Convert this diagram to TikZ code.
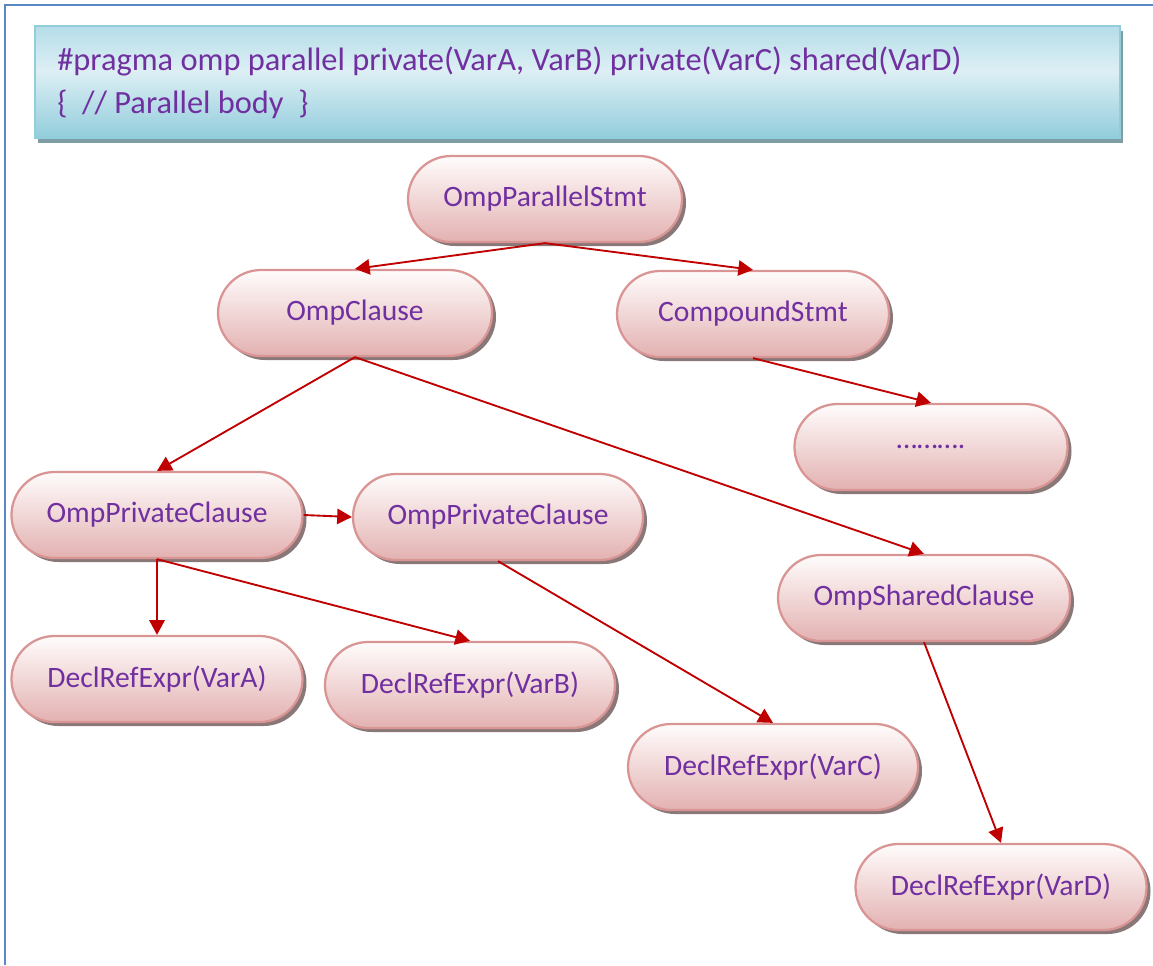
\documentclass[tikz,border=0pt]{standalone}
\usepackage{fontspec}
\setmainfont{Carlito}
\usetikzlibrary{arrows.meta,shapes.misc,shadows}
\definecolor{txt}{HTML}{7030A0}
\definecolor{edgec}{HTML}{C00000}
\definecolor{pillborder}{HTML}{D99594}
\definecolor{pilltop}{HTML}{FFFCFC}
\definecolor{pillbot}{HTML}{E3B1B1}
\definecolor{shad}{HTML}{8A7878}
\definecolor{framec}{HTML}{5B87C5}
\definecolor{hdrdark}{HTML}{92CDDC}
\definecolor{hdrmid}{HTML}{B5DDE8}
\definecolor{hdrlight}{HTML}{DDEFF4}
\definecolor{hdrshad}{HTML}{7E9DA5}
\pgfdeclareverticalshading{hdrshade}{100bp}{color(0bp)=(hdrdark); color(25bp)=(hdrdark); color(55bp)=(hdrlight); color(75bp)=(hdrmid); color(100bp)=(hdrmid)}
\tikzset{
  pill/.style={rounded rectangle, draw=pillborder, line width=1.7pt,
    top color=pilltop, bottom color=pillbot, text=txt,
    font=\fontsize{22.2}{26}\selectfont, minimum height=64.5pt, inner sep=0pt,
    general shadow={fill=shad, shadow xshift=3pt, shadow yshift=-3pt}},
  hdrbox/.style={rectangle, draw=hdrdark, line width=0.8pt, shading=hdrshade,
    minimum width=813.75pt, minimum height=84pt, inner sep=0pt,
    general shadow={fill=hdrshad, shadow xshift=2pt, shadow yshift=-4pt}},
  hdrtext/.style={anchor=west, text=txt, font=\fontsize{24.3}{28}\selectfont, inner sep=0pt},
  arr/.style={draw=edgec, line width=1.4pt, -{Triangle[length=11pt,width=11.5pt]}},
  framel/.style={draw=framec, line width=1.6pt}
}
\begin{document}
\begin{tikzpicture}[x=0.75pt,y=-0.75pt]
\useasboundingbox (0,0) rectangle (1153,965);
\draw[framel] (5,965) -- (5,5) -- (1153,5);
\node[hdrbox] (hdr) at (577.5,82) {};
\node[hdrtext] (h1) at (57,61) {\#pragma omp parallel private(VarA, VarB) private(VarC) shared(VarD)};
\node[hdrtext] (h2) at (57,104) {\{\ \ // Parallel body\ \ \}};

\node[pill, minimum width=205.5pt] (ps) at (545,199) {OmpParallelStmt};
\node[pill, minimum width=205.5pt] (oc) at (355,313) {OmpClause};
\node[pill, minimum width=204pt] (cs) at (753,314) {CompoundStmt};
\node[pill, minimum width=204.75pt] (dots) at (931,447) {……….};
\node[pill, minimum width=218.25pt] (pc1) at (157,515) {OmpPrivateClause};
\node[pill, minimum width=217.5pt] (pc2) at (498,517) {OmpPrivateClause};
\node[pill, minimum width=219pt] (sc) at (924,598) {OmpSharedClause};
\node[pill, minimum width=218.25pt] (da) at (157,679) {DeclRefExpr(VarA)};
\node[pill, minimum width=217.5pt] (db) at (470,685) {DeclRefExpr(VarB)};
\node[pill, minimum width=217.5pt] (dc) at (773,767) {DeclRefExpr(VarC)};
\node[pill, minimum width=218.25pt] (dd) at (1001,887) {DeclRefExpr(VarD)};

\draw[arr] (ps.south) -- (oc.north);
\draw[arr] (ps.south) -- (cs.north);
\draw[arr] (oc.south) -- (pc1.north);
\draw[arr] (oc.south) -- (sc.north);
\draw[arr] (cs.south) -- (dots.north);
\draw[arr] (pc1.east) -- (pc2.west);
\draw[arr] (pc1.south) -- (da.north);
\draw[arr] (pc1.south) -- (db.north);
\draw[arr] (pc2.south) -- (dc.north);
\draw[arr] (sc.south) -- (dd.north);
\end{tikzpicture}
\end{document}
